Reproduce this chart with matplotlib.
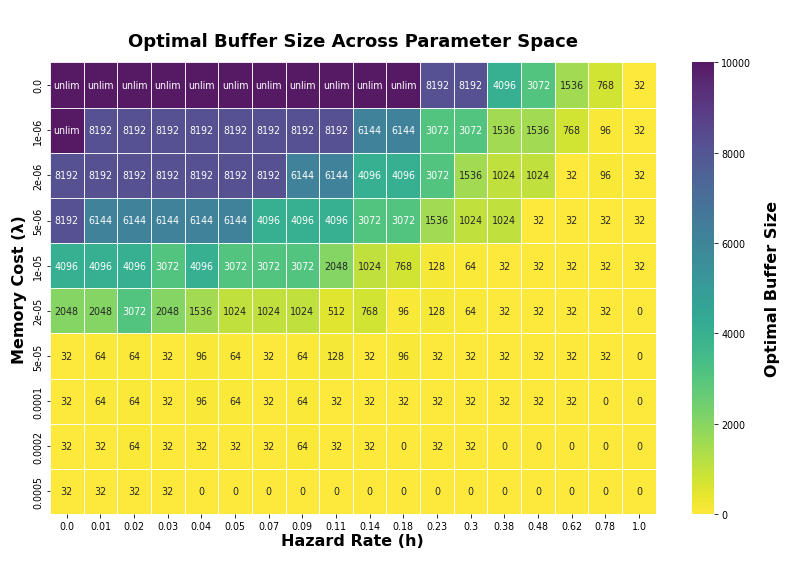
import matplotlib
matplotlib.use('Agg')
import matplotlib.pyplot as plt
import numpy as np
import seaborn as sns

# hazard rate (columns) and memory cost (rows)
hazard_rates = ['0.0', '0.01', '0.02', '0.03', '0.04', '0.05', '0.07', '0.09', '0.11',
                '0.14', '0.18', '0.23', '0.3', '0.38', '0.48', '0.62', '0.78', '1.0']
memory_costs = ['0.0', '1e-06', '2e-06', '5e-06', '1e-05', '2e-05', '5e-05', '0.0001', '0.0002', '0.0005']

U = -1  # unlimited buffer
buffer_sizes = [
    [U, U, U, U, U, U, U, U, U, U, U, 8192, 8192, 4096, 3072, 1536, 768, 32],
    [U, 8192, 8192, 8192, 8192, 8192, 8192, 8192, 8192, 6144, 6144, 3072, 3072, 1536, 1536, 768, 96, 32],
    [8192, 8192, 8192, 8192, 8192, 8192, 8192, 6144, 6144, 4096, 4096, 3072, 1536, 1024, 1024, 32, 96, 32],
    [8192, 6144, 6144, 6144, 6144, 6144, 4096, 4096, 4096, 3072, 3072, 1536, 1024, 1024, 32, 32, 32, 32],
    [4096, 4096, 4096, 3072, 4096, 3072, 3072, 3072, 2048, 1024, 768, 128, 64, 32, 32, 32, 32, 32],
    [2048, 2048, 3072, 2048, 1536, 1024, 1024, 1024, 512, 768, 96, 128, 64, 32, 32, 32, 32, 0],
    [32, 64, 64, 32, 96, 64, 32, 64, 128, 32, 96, 32, 32, 32, 32, 32, 32, 0],
    [32, 64, 64, 32, 96, 64, 32, 64, 32, 32, 32, 32, 32, 32, 32, 32, 0, 0],
    [32, 32, 64, 32, 32, 32, 32, 64, 32, 32, 0, 32, 32, 0, 0, 0, 0, 0],
    [32, 32, 32, 32, 0, 0, 0, 0, 0, 0, 0, 0, 0, 0, 0, 0, 0, 0],
]

raw = np.array(buffer_sizes)
unlim_value = 10000
values = np.where(raw == U, unlim_value, raw)
labels = np.where(raw == U, 'unlim', raw.astype(str))

fig = plt.figure(figsize=(11, 7.86), dpi=72)
ax = fig.add_axes([0.063, 0.09, 0.765, 0.798])
cax = fig.add_axes([0.874, 0.09, 0.028, 0.798])

sns.heatmap(values, ax=ax, cbar_ax=cax, cmap='viridis_r', vmin=0, vmax=10000,
            annot=labels, fmt='', annot_kws={'size': 9.5}, alpha=0.9,
            linewidths=1, linecolor='white',
            xticklabels=hazard_rates, yticklabels=memory_costs,
            cbar_kws={'label': 'Optimal Buffer Size'})

ax.set_title('Optimal Buffer Size Across Parameter Space', fontsize=18, fontweight='bold', pad=16)
ax.set_xlabel('Hazard Rate (h)', fontsize=16, fontweight='bold', labelpad=2)
ax.set_ylabel('Memory Cost (λ)', fontsize=16, fontweight='bold', labelpad=6)
ax.tick_params(axis='both', labelsize=9.5)
plt.setp(ax.get_xticklabels(), rotation=0)
plt.setp(ax.get_yticklabels(), rotation=90, va='center')

cb = ax.collections[0].colorbar
cb.outline.set_visible(False)
cb.ax.tick_params(labelsize=9.5)
cb.set_label('Optimal Buffer Size', fontsize=16, fontweight='bold', labelpad=14)

fig.savefig('out.png', dpi=72)
